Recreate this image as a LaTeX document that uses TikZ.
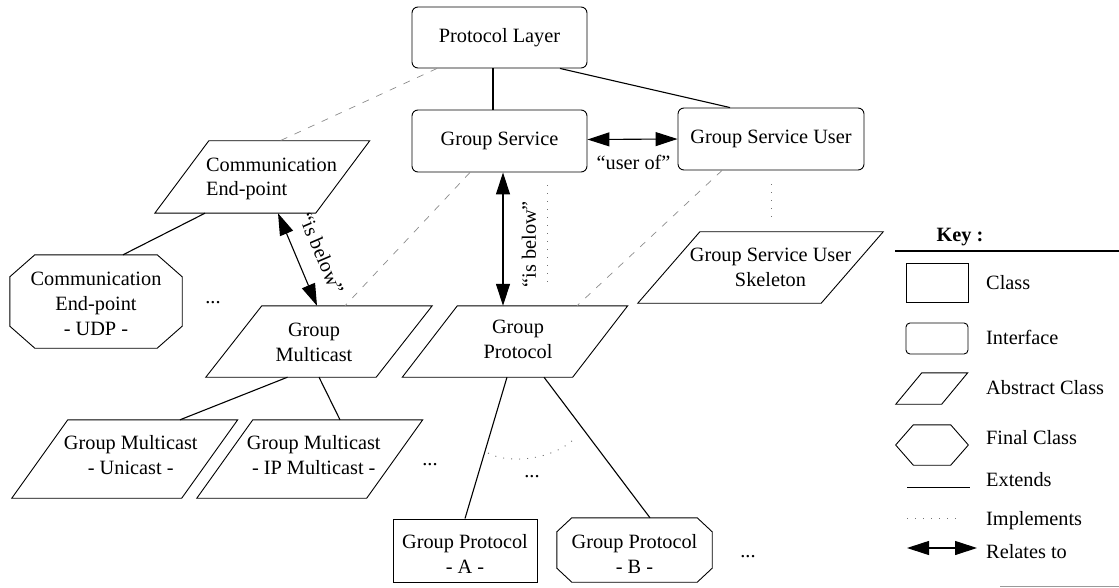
\documentclass[tikz,border=0pt]{standalone}
\usepackage{fontspec}
\setmainfont{Liberation Serif}
\usetikzlibrary{arrows.meta,calc}

\tikzset{
  txt/.style={font=\fontsize{20.3}{25}\selectfont, align=center, inner sep=0pt},
  frame/.style={draw=black, line width=0.9pt},
  iface/.style={frame, rounded corners=6pt, txt},
  cls/.style={frame, txt},
  carrier/.style={txt, draw=none},
  ext/.style={draw=black, line width=1.1pt},
  impl/.style={draw=black!45, line width=0.7pt, dash pattern=on 7pt off 8pt},
  implpt/.style={draw=black!55, line width=0.9pt, dash pattern=on 1pt off 7pt},
  rel/.style={draw=black, line width=1.1pt,
    {Triangle[length=22pt,width=14pt]}-{Triangle[length=22pt,width=14pt]}},
}

% abstract class: name, centre, width, height, half slant, text, text offset
\newcommand{\absbox}[7]{%
  \node[carrier, minimum width=#3pt, minimum height=#4pt] (#1) at (#2) {};
  \draw[frame] ([xshift=#5pt]#1.north west) -- ([xshift=#5pt]#1.north east)
    -- ([xshift=-#5pt]#1.south east) -- ([xshift=-#5pt]#1.south west) -- cycle;
  \node[txt] at ($(#1.center)+(#7)$) {#6};
}
% final class: name, centre, width, height, chamfer x, chamfer y, text, text offset
\newcommand{\finalbox}[8]{%
  \node[carrier, minimum width=#3pt, minimum height=#4pt] (#1) at (#2) {};
  \draw[frame] ([xshift=#5pt]#1.north west) -- ([xshift=-#5pt]#1.north east)
    -- ([yshift=-#6pt]#1.north east) -- ([yshift=#6pt]#1.south east)
    -- ([xshift=-#5pt]#1.south east) -- ([xshift=#5pt]#1.south west)
    -- ([yshift=#6pt]#1.south west) -- ([yshift=-#6pt]#1.north west) -- cycle;
  \node[txt] at ($(#1.center)+(#8)$) {#7};
}

\begin{document}
\begin{tikzpicture}[x=1pt, y=-1pt]
\useasboundingbox (0,0) rectangle (1119,588);

% interfaces
\node[iface, minimum width=175pt, minimum height=61pt] (PL) at (499.5,37.5) {Protocol Layer};
\node[iface, minimum width=175pt, minimum height=62pt] (GS) at (499.5,141) {Group Service};
\node[iface, minimum width=186pt, minimum height=62pt] (GSU) at (771,139) {Group Service User};

% abstract classes
\absbox{CE}{262.25,177}{160.5}{72}{27}{\begin{tabular}{@{}l@{}}Communication\\[-1pt]End-point\end{tabular}}{9.25,1.5}
\absbox{GM}{319,341.5}{170}{71}{28}{Group\\Multicast}{-5,1}
\absbox{GP}{515,341.5}{170}{71}{27.5}{Group\\Protocol}{3,-2}
\absbox{SK}{760.5,267.5}{183}{71}{31}{Group Service User\\Skeleton}{10,0}
\absbox{UC}{124.75,459}{169.5}{78}{28}{Group Multicast\\- Unicast -}{6,-3.5}
\absbox{IPM}{309.75,459}{169.5}{78}{28}{Group Multicast\\- IP Multicast -}{4,-3.5}

% final classes
\finalbox{UDP}{96,301.5}{172}{93}{25}{22}{Communication\\End-point\\- UDP -}{0,2.5}
\finalbox{GPB}{634.5,550}{155}{64}{15}{14}{Group Protocol\\- B -}{0,3.5}

% class
\node[cls, minimum width=144pt, minimum height=63pt] (GPA) at (465,550.5) {};
\node[txt] at ($(GPA.center)+(0,3.5)$) {Group Protocol\\- A -};

% ellipses
\node[txt] (d1) at (213,303) {...};
\node[txt] (d2) at (430,465) {...};
\node[txt] (d3) at (532,477) {...};
\node[txt] (d4) at (748,557) {...};

% extends
\draw[ext] ([xshift=-6.5pt]PL.south) -- ([xshift=-6.5pt]PL.south |- GS.north);
\draw[ext] ([xshift=60.5pt]PL.south) -- ([xshift=-41pt]GSU.north);
\draw[ext] ([xshift=-57.25pt]CE.south) -- ([xshift=27pt]UDP.north);
\draw[ext] ([xshift=-31.5pt]GM.south) -- ([xshift=55.25pt]UC.north);
\draw[ext] (GM.south) -- ([xshift=30.25pt]IPM.north);
\draw[ext] ([xshift=-8pt]GP.south) -- (GPA.north);
\draw[ext] ([xshift=29pt]GP.south) -- ([xshift=15.5pt]GPB.north);

% implements
\draw[impl] ([xshift=-62.5pt]PL.south) -- ([xshift=17.75pt]CE.north);
\draw[impl] ([xshift=-29.5pt]GS.south) -- ([xshift=26pt]GM.north);
\draw[impl] ([xshift=-49pt]GSU.south) -- ([xshift=62pt]GP.north);
\draw[implpt, shorten <=14pt, shorten >=14pt] (GSU.south) -- (GSU.south |- SK.north);
\draw[implpt, shorten <=13pt, shorten >=21pt] ([xshift=47.5pt]GS.south) -- ([xshift=47.5pt]GS.south |- GP.north);
\draw[implpt] (488,453) .. controls (505,463) and (548,462) .. (573,440);

% relates to
\draw[rel] ([yshift=1.5pt]GS.east) -- (GSU.west);
\node[txt] at ($(GS.east)!0.5!(GSU.west)+(1,22)$) {“user of”};

\coordinate (gsS) at ([xshift=3.5pt]GS.south);
\coordinate (gpN) at (gsS |- GP.north);
\draw[rel] (gsS) -- (gpN);
\node[txt, rotate=90] at ($(gsS)!0.5!(gpN)+(26,5)$) {“is below”};

\coordinate (ceS) at ([xshift=15.75pt]CE.south);
\coordinate (gmN) at ([xshift=-2pt]GM.north);
\draw[rel] (ceS) -- (gmN);
\node[txt, rotate=-67] at ($(ceS)!0.5!(gmN)+(24,-6)$) {“is below”};

% key
\node[txt, font=\fontsize{20.3}{25}\selectfont\bfseries] (key) at (960,237) {Key :};
\coordinate (keyL) at (895,251);
\coordinate (keyR) at (1119,251);
\draw[line width=1.3pt] (keyL) -- (keyR);

\node[cls, minimum width=62pt, minimum height=39pt] (kClass) at (937,282.5) {};
\node[txt, anchor=west] (tClass) at (986,283) {Class};
\node[iface, rounded corners=4pt, minimum width=62pt, minimum height=31pt] (kIface) at (937,338.5) {};
\node[txt, anchor=west] (tIface) at (986,337) {Interface};
\absbox{kAbs}{931.75,388.5}{45.5}{31}{13}{}{0,0}
\node[txt, anchor=west] (tAbs) at (986,388) {Abstract Class};
\finalbox{kFin}{932,445}{72}{40}{17.5}{20}{}{0,0}
\node[txt, anchor=west] (tFin) at (986,438) {Final Class};

\coordinate (kE1) at (907,487);
\coordinate (kE2) at (970,487);
\draw[ext, line width=1pt] (kE1) -- (kE2);
\node[txt, anchor=west] (tExt) at (986,480) {Extends};

\coordinate (kI1) at (907,518);
\coordinate (kI2) at (960,518);
\draw[implpt] (kI1) -- (kI2);
\node[txt, anchor=west] (tImp) at (986,521) {Implements};

\coordinate (kR1) at (907,548);
\coordinate (kR2) at (977,548);
\draw[rel] (kR1) -- (kR2);
\node[txt, anchor=west] (tRel) at (986,552) {Relates to};

\coordinate (kB1) at (1000,586);
\coordinate (kB2) at (1119,586);
\draw[black!40, line width=1pt] (kB1) -- (kB2);
\end{tikzpicture}
\end{document}
